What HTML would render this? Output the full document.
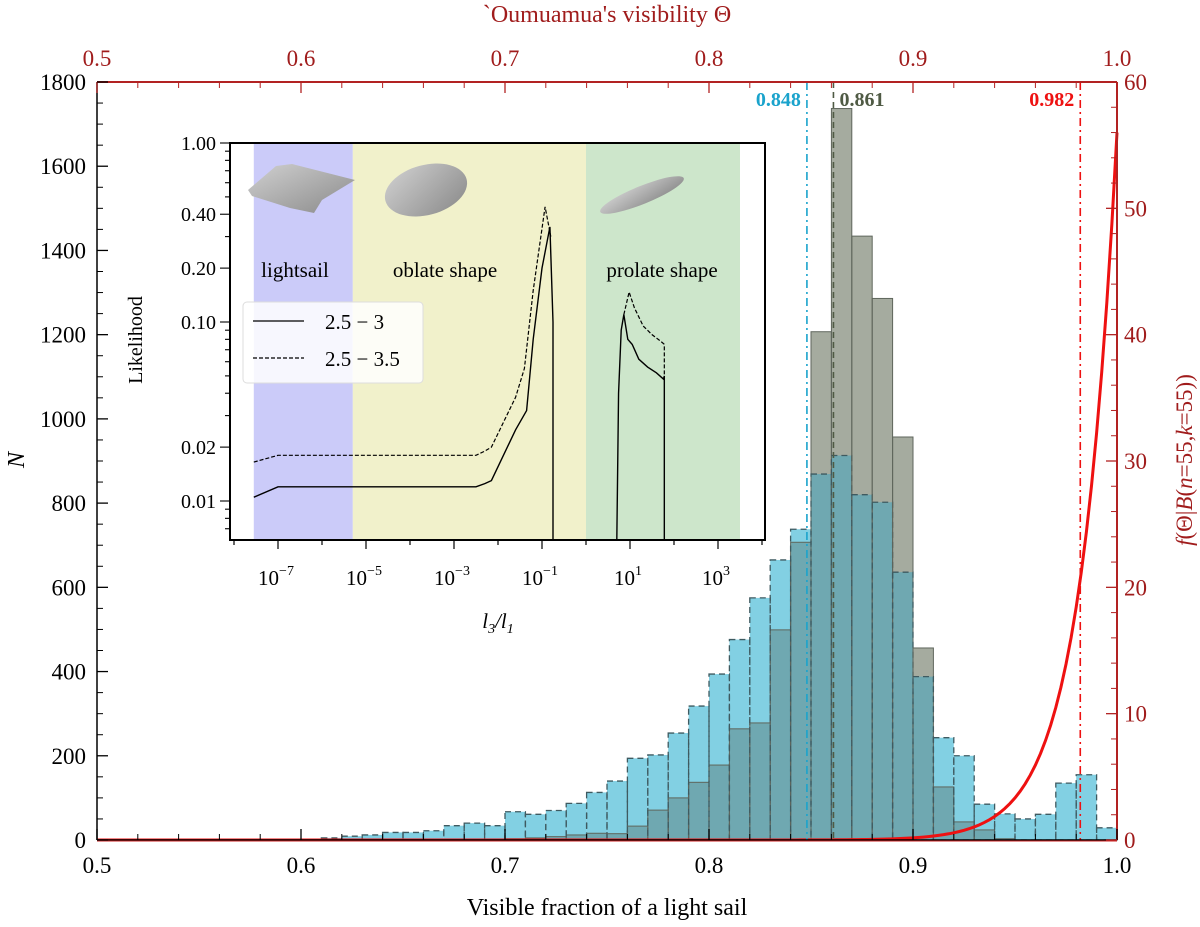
<!DOCTYPE html>
<html><head><meta charset="utf-8"><style>
html,body{margin:0;padding:0;background:#fff}
svg{display:block;font-family:"Liberation Serif",serif}
</style></head><body>
<svg id="chart" width="1200" height="927" viewBox="0 0 1200 927" xmlns="http://www.w3.org/2000/svg">
<g id="main"></g>
<g id="inset"></g>
</svg>
<script>
const binStarts = [0.50,0.51,0.52,0.53,0.54,0.55,0.56,0.57,0.58,0.59,0.60,0.61,0.62,0.63,0.64,0.65,0.66,0.67,0.68,0.69,0.70,0.71,0.72,0.73,0.74,0.75,0.76,0.77,0.78,0.79,0.80,0.81,0.82,0.83,0.84,0.85,0.86,0.87,0.88,0.89,0.90,0.91,0.92,0.93,0.94,0.95,0.96,0.97,0.98,0.99];
const blueCounts = [0,0,0,0,0,0,1,2,2,2,1,5,9,12,18,18,22,34,40,34,67,61,70,87,113,140,194,202,254,318,394,476,575,665,738,869,913,820,802,636,388,243,200,85,62,50,61,135,155,29];
const grayCounts = [0,0,0,0,0,0,0,0,0,0,0,0,0,0,0,0,0,0,0,0,3,5,8,12,16,15,33,71,100,137,178,264,278,499,707,1207,1737,1434,1286,957,456,126,43,24,3,0,0,0,0,0];
const xTicks = [0.5,0.6,0.7,0.8,0.9,1.0];
const yTicks = [0,200,400,600,800,1000,1200,1400,1600,1800];
const rTicks = [0,10,20,30,40,50,60];
const markerValues = [0.848,0.861,0.982];
const markerLabels = ["0.848","0.861","0.982"];
const betaN = 55, betaK = 55;
// inset data (log10 x, likelihood)
const solidLowX = [-7.55,-7.0,-2.5,-2.3,-2.15,-1.6,-1.35,-1.2,-1.0,-0.82,-0.75,-0.75];
const solidLowY = [0.0105,0.012,0.012,0.0125,0.013,0.025,0.032,0.08,0.2,0.34,0.1,0.006];
const dashLowX = [-7.55,-7.0,-2.5,-2.3,-2.15,-1.6,-1.4,-1.2,-0.93,-0.8];
const dashLowY = [0.0165,0.018,0.018,0.019,0.02,0.038,0.055,0.15,0.44,0.3];
const solidHighX = [0.7,0.74,0.8,0.86,0.95,1.05,1.2,1.4,1.6,1.76,1.78,1.78];
const solidHighY = [0.006,0.04,0.09,0.11,0.08,0.075,0.062,0.056,0.052,0.048,0.05,0.006];
const dashHighX = [0.86,0.98,1.1,1.3,1.5,1.7,1.78,1.78];
const dashHighY = [0.11,0.147,0.12,0.095,0.085,0.078,0.075,0.048];
const insetXTicks = [-7,-5,-3,-1,1,3];
const insetYTicks = [1.0,0.4,0.2,0.1,0.02,0.01];
const insetYLabels = ["1.00","0.40","0.20","0.10","0.02","0.01"];

const NS="http://www.w3.org/2000/svg";
function mk(parent,tag,attrs,text){const e=document.createElementNS(NS,tag);for(const k in attrs)e.setAttribute(k,attrs[k]);if(text!==undefined)e.textContent=text;parent.appendChild(e);return e;}
const X0=97,X1=1117,Y0=840,Y1=82;
const xs=v=>X0+(v-0.5)/0.5*(X1-X0);
const ys=v=>Y0-v/1800*(Y0-Y1);
const yr=v=>Y0-v/60*(Y0-Y1);
const main=document.getElementById('main');
const W=xs(0.51)-xs(0.5);
// bars
for(let i=0;i<binStarts.length;i++){
  const x=xs(binStarts[i]);const b=blueCounts[i],g=grayCounts[i];
  if(b>0){const r=mk(main,'rect',{x:x,y:ys(b),width:W,height:Y0-ys(b),fill:'#82d0e3'});
  
  }
  if(g>0){const r=mk(main,'rect',{x:x,y:ys(g),width:W,height:Y0-ys(g),fill:'#a5ab9f'});
  
  }
  const m=Math.min(b,g);
  if(m>0){const r=mk(main,'rect',{x:x,y:ys(m),width:W,height:Y0-ys(m),fill:'#6fa8b1'});
  
  }
}
for(let i=0;i<binStarts.length;i++){
  const x=xs(binStarts[i]);const b=blueCounts[i],g=grayCounts[i];
  if(g>0){const r=mk(main,'rect',{x:x,y:ys(g),width:W,height:Y0-ys(g),fill:'none',stroke:'#5f665c','stroke-width':1});
  
  }
  if(b>0){const r=mk(main,'rect',{x:x,y:ys(b),width:W,height:Y0-ys(b),fill:'none',stroke:'#3f5a60','stroke-width':1.3,'stroke-dasharray':'6,4'});
  
  }
}
// red curve
let d='';
for(let t=0.5;t<=1.0001;t+=0.0025){const v=(betaN+1)*Math.pow(t,betaK);d+=(d?'L':'M')+xs(t).toFixed(2)+','+yr(v).toFixed(2);}
const curve=mk(main,'path',{d:d,fill:'none',stroke:'#ee1111','stroke-width':3});


// marker lines
const mColors=['#1aa3cc','#4f5a44','#ee1111'];
const mDash=['8,4,2,4','6,4','8,4,2,4'];
for(let i=0;i<markerValues.length;i++){
  const x=xs(markerValues[i]);
  const l=mk(main,'line',{x1:x,x2:x,y1:Y1,y2:Y0,stroke:mColors[i],'stroke-width':1.6,'stroke-dasharray':mDash[i]});
  
  
  const anchor=i===1?'start':'end';const tx=i===1?x+6:x-6;
  const t=mk(main,'text',{x:tx,y:106,'font-size':20,'font-weight':'bold',fill:mColors[i],'text-anchor':anchor},markerLabels[i]);
  
  
}
// frame
mk(main,'line',{x1:X0,x2:X0,y1:Y1,y2:Y0,stroke:'#000','stroke-width':1.5});
mk(main,'line',{x1:X0,x2:X1,y1:Y0,y2:Y0,stroke:'#000','stroke-width':1.5});
mk(main,'line',{x1:X0,x2:X1,y1:Y0+1,y2:Y0+1,stroke:'#cc2222','stroke-width':1});
mk(main,'line',{x1:X0,x2:X1,y1:Y1,y2:Y1,stroke:'#b22222','stroke-width':2});
mk(main,'line',{x1:X1,x2:X1,y1:Y1,y2:Y0,stroke:'#b22222','stroke-width':2});
// x ticks
for(let v=0.5;v<=1.0001;v+=0.02){const x=xs(v);mk(main,'line',{x1:x,x2:x,y1:Y0,y2:Y0-6,stroke:'#000'});mk(main,'line',{x1:x,x2:x,y1:Y1,y2:Y1+6,stroke:'#b22222'});}
xTicks.forEach(v=>{const x=xs(v);
  mk(main,'line',{x1:x,x2:x,y1:Y0,y2:Y0-11,stroke:'#000','stroke-width':1.3});
  mk(main,'line',{x1:x,x2:x,y1:Y1,y2:Y1+11,stroke:'#b22222','stroke-width':1.3});
  const t=mk(main,'text',{x:x,y:873,'font-size':23,'text-anchor':'middle',fill:'#000'},v.toFixed(1));
  
  
  const t2=mk(main,'text',{x:x,y:66,'font-size':23,'text-anchor':'middle',fill:'#a01c1c'},v.toFixed(1));
  
  
});
for(let v=0;v<=1800;v+=50){const y=ys(v);mk(main,'line',{x1:X0,x2:X0+(v%200===0?11:6),y1:y,y2:y,stroke:'#000','stroke-width':v%200===0?1.3:1});}
yTicks.forEach(v=>{const t=mk(main,'text',{x:86,y:ys(v)+8,'font-size':23,'text-anchor':'end',fill:'#000'},String(v));
  
  });
for(let v=0;v<=60;v+=2){const y=yr(v);mk(main,'line',{x1:X1,x2:X1-(v%10===0?11:6),y1:y,y2:y,stroke:'#b22222','stroke-width':v%10===0?1.3:1});}
rTicks.forEach(v=>{const t=mk(main,'text',{x:1124,y:yr(v)+8,'font-size':23,'text-anchor':'start',fill:'#a01c1c'},String(v));
  
  });
// titles
let t=mk(main,'text',{x:607,y:915,'font-size':24,'text-anchor':'middle'},'Visible fraction of a light sail');

t=mk(main,'text',{x:607,y:22,'font-size':24,'text-anchor':'middle',fill:'#a01c1c'},"`Oumuamua's visibility Θ");

t=mk(main,'text',{x:0,y:0,'font-size':24,'text-anchor':'middle','font-style':'italic',transform:'translate(24,460) rotate(-90)'},'N');

t=mk(main,'text',{x:0,y:0,'font-size':23,'text-anchor':'middle',fill:'#a01c1c',transform:'translate(1192,460) rotate(-90)'},'');
t.innerHTML='<tspan font-style="italic">f</tspan>(Θ|<tspan font-style="italic">B</tspan>(<tspan font-style="italic">n</tspan>=55,<tspan font-style="italic">k</tspan>=55))';


// INSET
const ins=document.getElementById('inset');
const IX0=230,IX1=765,IY0=143,IY1=540;
const ix=l=>542+44*(l+1);
const iy=v=>143+179*(-Math.log10(v));
mk(ins,'rect',{x:IX0,y:IY0,width:IX1-IX0,height:IY1-IY0,fill:'#fff'});
let r=mk(ins,'rect',{x:ix(-7.55),y:IY0,width:ix(-5.3)-ix(-7.55),height:IY1-IY0,fill:'#cbcbf9'});

r=mk(ins,'rect',{x:ix(-5.3),y:IY0,width:ix(0)-ix(-5.3),height:IY1-IY0,fill:'#f1f1cb'});

r=mk(ins,'rect',{x:ix(0),y:IY0,width:ix(3.5)-ix(0),height:IY1-IY0,fill:'#cde6cb'});

// shapes
mk(ins,'defs',{}).innerHTML='<linearGradient id="gg" x1="0" y1="0" x2="1" y2="1"><stop offset="0" stop-color="#d0d0d0"/><stop offset="1" stop-color="#8a8a8a"/></linearGradient>';
let s=mk(ins,'polygon',{points:'248,190 276,166 292,164 355,180 322,200 314,213 290,208 252,196',fill:'url(#gg)'});

s=mk(ins,'ellipse',{cx:426,cy:190,rx:42,ry:25,fill:'url(#gg)',transform:'rotate(-15 426 190)'});

s=mk(ins,'ellipse',{cx:642,cy:195,rx:45,ry:9,fill:'url(#gg)',transform:'rotate(-22 642 195)'});

// region labels
[['lightsail',295,'lightsail-label'],['oblate shape',445,'oblate-label'],['prolate shape',662,'prolate-label']].forEach(a=>{
  const e=mk(ins,'text',{x:a[1],y:277,'font-size':21,'text-anchor':'middle'},a[0]);
  });
function lp(xa,ya){return xa.map((v,i)=>(i?'L':'M')+ix(v).toFixed(2)+','+iy(ya[i]).toFixed(2)).join('');}
let p=mk(ins,'path',{d:lp(solidLowX,solidLowY)+lp(solidHighX,solidHighY),fill:'none',stroke:'#000','stroke-width':1.4});

p=mk(ins,'path',{d:lp(dashLowX,dashLowY)+lp(dashHighX,dashHighY),fill:'none',stroke:'#000','stroke-width':1.2,'stroke-dasharray':'4,2'});

mk(ins,'rect',{x:IX0,y:IY0,width:IX1-IX0,height:IY1-IY0,fill:'none',stroke:'#000','stroke-width':2});
// inset ticks
for(let l=-8;l<=4;l++){const x=ix(l);const maj=insetXTicks.includes(l);mk(ins,'line',{x1:x,x2:x,y1:IY1,y2:IY1+(maj?9:5),stroke:'#000','stroke-width':1.2});}
insetXTicks.forEach(l=>{const e=mk(ins,'text',{x:ix(l)-2,y:585,'font-size':21,'text-anchor':'middle'},'');
  e.innerHTML='10<tspan dy="-10" font-size="14">'+(l<0?'−'+(-l):l)+'</tspan>';
  });
for(let dec=-3;dec<=0;dec++){for(let m=1;m<10;m++){const v=m*Math.pow(10,dec);if(v>1.0001)continue;const y=iy(v);if(y>IY1)continue;
  const maj=insetYTicks.some(q=>Math.abs(q-v)<1e-9);mk(ins,'line',{x1:IX0,x2:IX0-(maj?10:5),y1:y,y2:y,stroke:'#000','stroke-width':1.1});}}
insetYTicks.forEach((v,i)=>{const e=mk(ins,'text',{x:IX0-14,y:iy(v)+7,'font-size':20,'text-anchor':'end'},insetYLabels[i]);
  });
t=mk(ins,'text',{x:0,y:0,'font-size':20,'text-anchor':'middle',transform:'translate(142,340) rotate(-90)'},'Likelihood');

t=mk(ins,'text',{x:498,y:628,'font-size':21,'text-anchor':'middle','font-style':'italic'},'');
t.innerHTML='l<tspan dy="5" font-size="14">3</tspan><tspan dy="-5">/l</tspan><tspan dy="5" font-size="14">1</tspan>';

// legend
const lg=mk(ins,'g',{});

mk(lg,'rect',{x:243,y:302,width:180,height:81,rx:4,fill:'#fff','fill-opacity':0.85,stroke:'#ddd'});
mk(lg,'line',{x1:253,x2:304,y1:321,y2:321,stroke:'#000','stroke-width':1.3});
mk(lg,'line',{x1:253,x2:304,y1:358,y2:358,stroke:'#000','stroke-width':1.2,'stroke-dasharray':'4,2'});
t=mk(lg,'text',{x:325,y:329,'font-size':21},'2.5 − 3');
t=mk(lg,'text',{x:325,y:366,'font-size':21},'2.5 − 3.5');
</script>
</body></html>
